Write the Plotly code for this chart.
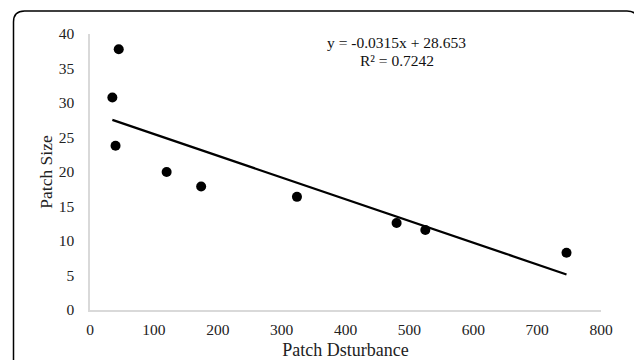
import plotly.graph_objects as go

disturbance = [35, 40, 45, 120, 174, 324, 480, 525, 746]
patch_size = [30.8, 23.8, 37.8, 20.0, 17.9, 16.4, 12.6, 11.6, 8.3]
slope = -0.0315
intercept = 28.653
x_ticks = [0, 100, 200, 300, 400, 500, 600, 700, 800]
y_ticks = [0, 5, 10, 15, 20, 25, 30, 35, 40]

FONT = "Liberation Serif, Times New Roman, serif"

fig = go.Figure()
fig.add_trace(go.Scatter(
    x=disturbance, y=patch_size, mode="markers",
    marker=dict(color="black", size=10), showlegend=False, cliponaxis=False))
x_min, x_max = min(disturbance), max(disturbance)
fig.add_trace(go.Scatter(
    x=[x_min, x_max], y=[slope * x_min + intercept, slope * x_max + intercept],
    mode="lines", line=dict(color="black", width=2.2), showlegend=False))

# plot area pixel geometry
L, R, T, B = 90, 33, 34, 50
W, H = 634 - L - R, 360 - T - B

def px(xp):
    return (xp - L) / W

def py(yp):
    return (360 - B - yp) / H

left, right, top, bottom = 13.5, 638, 11, 365
rad = 11
path = (f"M {px(left)} {py(bottom)} L {px(left)} {py(top + rad)} "
        f"Q {px(left)} {py(top)} {px(left + rad)} {py(top)} "
        f"L {px(right - rad)} {py(top)} "
        f"Q {px(right)} {py(top)} {px(right)} {py(top + rad)} "
        f"L {px(right)} {py(bottom)}")
fig.add_shape(type="path", path=path, xref="paper", yref="paper",
              line=dict(color="black", width=1.5))

fig.add_annotation(x=480, y=38.7, xref="x", yref="y", showarrow=False,
                   text=f"y = {slope}x + {intercept}",
                   font=dict(family=FONT, size=15.5, color="#111"))
fig.add_annotation(x=480, y=36.1, xref="x", yref="y", showarrow=False,
                   text="R² = 0.7242",
                   font=dict(family=FONT, size=15.5, color="#111"))

axis_common = dict(showgrid=False, zeroline=False, showline=True,
                   linecolor="#d9d9d9", linewidth=1.5, automargin=False,
                   tickfont=dict(family=FONT, size=15.5, color="#222"),
                   ticks="outside", tickcolor="rgba(0,0,0,0)")

fig.update_xaxes(range=[0, 800], tickvals=x_ticks, ticklen=5,
                 title=dict(text="Patch Dsturbance", standoff=17,
                            font=dict(family=FONT, size=18, color="#222")),
                 **axis_common)
fig.update_yaxes(range=[0, 40], tickvals=y_ticks, ticklen=11,
                 title=dict(text="Patch Size", standoff=2,
                            font=dict(family=FONT, size=17.5, color="#222")),
                 **axis_common)

fig.update_layout(width=634, height=360,
                  margin=dict(l=L, r=R, t=T, b=B),
                  paper_bgcolor="white", plot_bgcolor="white",
                  font=dict(family=FONT))
fig.write_html("out.html")
